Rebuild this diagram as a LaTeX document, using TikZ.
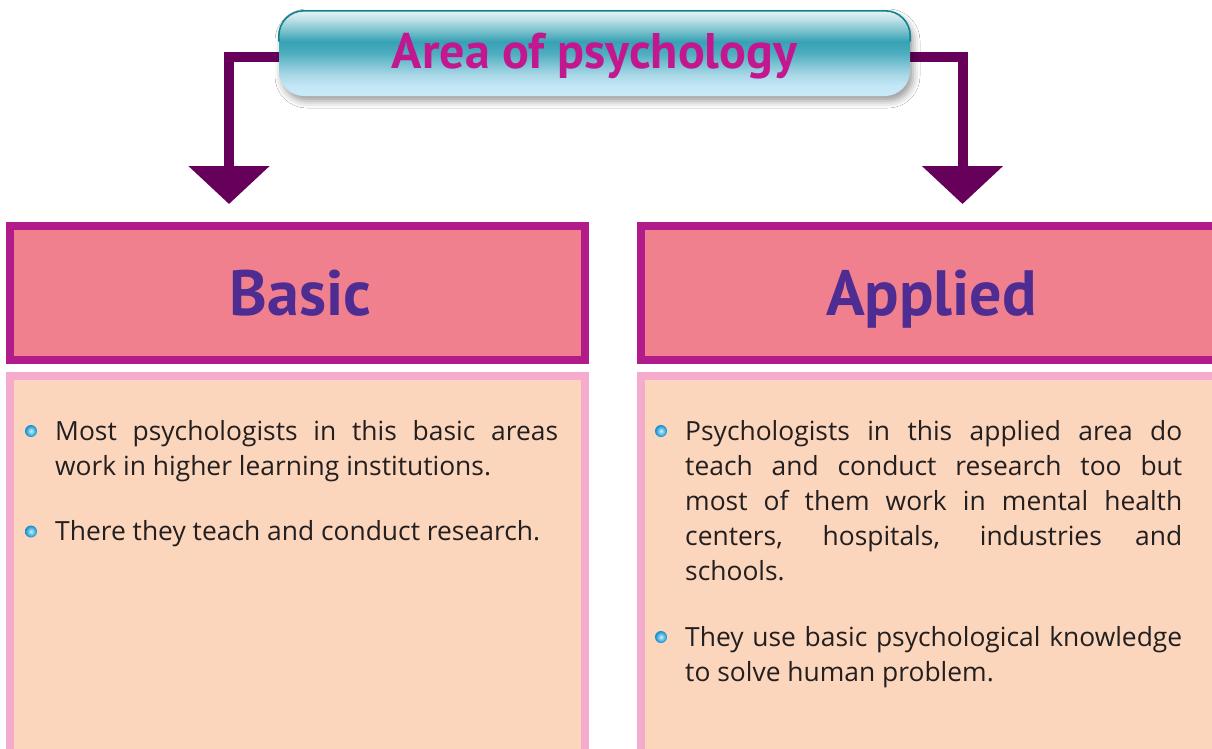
\documentclass[tikz,border=0pt]{standalone}
\usepackage{fontspec}
\setmainfont{PT Sans}
\newfontfamily\bodyfont{Open Sans}
\usetikzlibrary{arrows.meta,shadows.blur}
\definecolor{arrowc}{HTML}{66005A}
\definecolor{hdrborder}{HTML}{B21C8A}
\definecolor{hdrfill}{HTML}{F1808F}
\definecolor{cborder}{HTML}{F5ABCB}
\definecolor{cfill}{HTML}{FCD6BC}
\definecolor{titlec}{HTML}{C2178F}
\definecolor{hdrtextc}{HTML}{4F2C91}
\definecolor{bodyc}{HTML}{231F20}
\definecolor{rimc}{HTML}{10818E}
\definecolor{tA}{HTML}{E6F3F5}
\definecolor{tL}{HTML}{BFE0E6}
\definecolor{tT}{HTML}{36A2B4}
\definecolor{tB}{HTML}{4FAEBF}
\definecolor{tC}{HTML}{A6D6E6}
\definecolor{tD}{HTML}{C4E7F6}
\definecolor{tE}{HTML}{C8EAF9}
\definecolor{bulin}{HTML}{C8F2FF}
\definecolor{bulout}{HTML}{0A8DCC}
\pgfdeclareverticalshading{titleshade}{100bp}{color(0bp)=(tE); color(25bp)=(tE); color(31bp)=(tD); color(38bp)=(tC); color(50bp)=(tB); color(57bp)=(tT); color(70bp)=(tL); color(75bp)=(tA); color(100bp)=(tA)}
\tikzset{
  conn/.style={draw=arrowc, line width=10pt, line join=miter, -{Triangle[width=79pt,length=38pt]}},
  hdrbox/.style={draw=hdrborder, fill=hdrfill, line width=8pt, minimum width=575pt, minimum height=134pt, inner sep=0pt,
     text=hdrtextc, font=\bfseries\fontsize{64}{70}\selectfont, text height=45pt, text depth=0pt},
  bodybox/.style={draw=cborder, fill=cfill, line width=8pt, minimum width=575pt, minimum height=390pt, inner sep=0pt},
  bodyline/.style={anchor=base west, inner sep=0pt, text=bodyc, font=\bodyfont\fontsize{26.4}{35}\selectfont},
  bulletdot/.style={circle, minimum size=12pt, inner sep=0pt, inner color=bulin, outer color=bulout},
  titlebox/.style={shading=titleshade, rounded corners=25pt, minimum width=631pt, minimum height=85pt, inner sep=0pt,
     blur shadow={shadow xshift=3pt, shadow yshift=-5pt, shadow blur radius=7pt, shadow opacity=40},
     text=titlec, font=\bfseries\fontsize{50}{54}\selectfont, text height=29pt, text depth=0pt},
}
\begin{document}
\begin{tikzpicture}[x=1pt,y=-1pt]
\useasboundingbox (0,0) rectangle (1212,748);
\clip (0,0) rectangle (1212,748);
\fill[white] (0,0) rectangle (1212,748);
% tips
\coordinate (lefttip) at (229,204);
\coordinate (righttip) at (962.5,204);
\coordinate (titlec) at (594.5,53.5);
% connectors (under title)
\draw[conn] ([yshift=-3.5pt]titlec) -| (lefttip);
\draw[conn] ([yshift=-3.5pt]titlec) -| (righttip);
% title
\node[titlebox] (title) at (titlec) {Area of psychology};
\draw[rimc, line width=1.6pt, rounded corners=25pt] ([yshift=12pt]title.west) |- (title.north) -| ([yshift=12pt]title.east);
% header boxes
\node[hdrbox] (basic) at (297.5,293) {\hspace*{6pt}Basic};
\node[hdrbox, text width=575pt, align=center] (applied) at (928.5,293) {\hspace*{6pt}Applied};
% body boxes
\node[bodybox] (basicbody) at (297.5,571) {};
\node[bodybox] (appliedbody) at (928.5,571) {};
% basic bullets
\node[bulletdot] (bb1) at (31,431) {};
\node[bodyline] (b1a) at (55,440) {\makebox[503pt][s]{Most psychologists in this basic areas}};
\node[bodyline] (b1b) at (55,475) {work in higher learning institutions.};
\node[bulletdot] (bb2) at (31,531.5) {};
\node[bodyline] (b2a) at (55,540.5) {There they teach and conduct research.};
% applied bullets
\node[bulletdot] (ab1) at (661,431) {};
\node[bodyline] (a1a) at (685,440) {\makebox[497pt][s]{Psychologists in this applied area do}};
\node[bodyline] (a1b) at (685,475) {\makebox[497pt][s]{teach and conduct research too but}};
\node[bodyline] (a1c) at (685,510) {\makebox[497pt][s]{most of them work in mental health}};
\node[bodyline] (a1d) at (685,545) {\makebox[497pt][s]{centers, hospitals, industries and}};
\node[bodyline] (a1e) at (685,580) {schools.};
\node[bulletdot] (ab2) at (661,637) {};
\node[bodyline] (a2a) at (685,646) {\makebox[497pt][s]{They use basic psychological knowledge}};
\node[bodyline] (a2b) at (685,681) {to solve human problem.};
\end{tikzpicture}
\end{document}
